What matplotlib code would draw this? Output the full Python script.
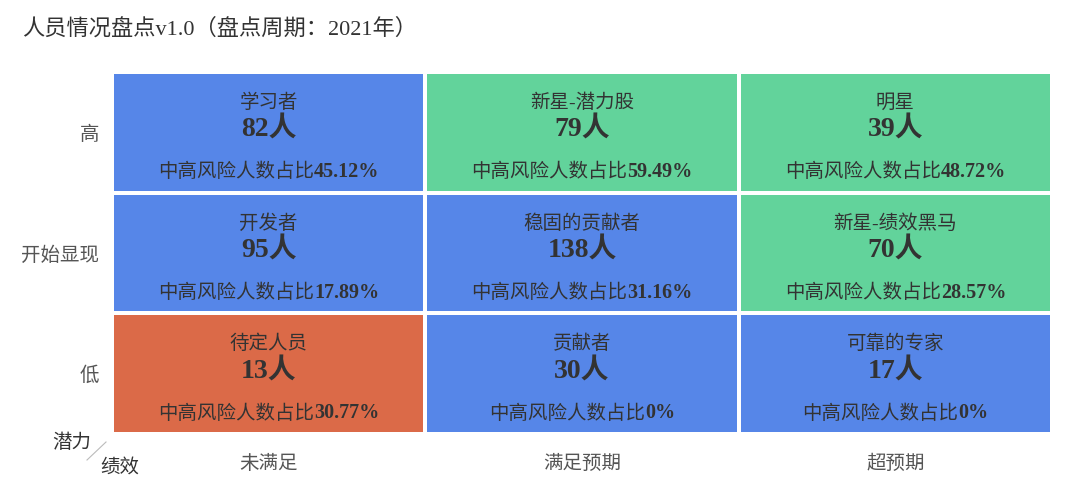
import matplotlib
matplotlib.use("Agg")
import matplotlib.pyplot as plt

plt.rcParams['font.family'] = ['Liberation Serif', 'Noto Sans CJK SC', 'DejaVu Sans']

title = "人员情况盘点v1.0（盘点周期：2021年）"
row_labels = ['低', '开始显现', '高']          # bottom -> top
col_labels = ['未满足', '满足预期', '超预期']
# grids listed bottom row first
names = [['待定人员', '贡献者', '可靠的专家'],
         ['开发者', '稳固的贡献者', '新星-绩效黑马'],
         ['学习者', '新星-潜力股', '明星']]
counts = [[13, 30, 17],
          [95, 138, 70],
          [82, 79, 39]]
risk = [['30.77%', '0%', '0%'],
        ['17.89%', '31.16%', '28.57%'],
        ['45.12%', '59.49%', '48.72%']]
kinds = [['o', 'b', 'b'],
         ['b', 'b', 'g'],
         ['b', 'g', 'g']]
palette = {'b': '#5686E8', 'g': '#62D39B', 'o': '#DB6A48'}

W, H = 1068, 500
fig = plt.figure(figsize=(W / 100, H / 100), dpi=100)
ax = fig.add_axes([114 / W, (H - 432) / H, 936 / W, 358 / H])

w = 928 / 940
h = 350 / 362
for r in range(3):
    for c in range(3):
        ax.bar(c, h, width=w, bottom=r - h / 2, color=palette[kinds[r][c]],
               edgecolor='none')
ax.set_xlim(-w / 2, 2 + w / 2)
ax.set_ylim(-h / 2, 2 + h / 2)
ax.axis('off')

txt = '#333333'
lab = '#555555'
fig.canvas.draw()
renderer = fig.canvas.get_renderer()
inv = ax.transData.inverted()

for r in range(3):
    for c in range(3):
        ax.text(c, r + 0.245, names[r][c], ha='center', va='center',
                fontsize=14, color=txt)
        ax.text(c, r + 0.02, f"{counts[r][c]}人", ha='center', va='center',
                fontsize=20, fontweight='bold', color=txt)
        t1 = ax.text(c, r - 0.33, '中高风险人数占比', ha='left', va='center',
                     fontsize=14, color=txt)
        t2 = ax.text(c, r - 0.33, risk[r][c], ha='left', va='center',
                     fontsize=14.5, fontweight='bold', color=txt)
        w1 = t1.get_window_extent(renderer).width
        w2 = t2.get_window_extent(renderer).width
        px_c = ax.transData.transform((c, r))[0]
        x1 = inv.transform((px_c - (w1 + w2) / 2, 0))[0]
        x2 = inv.transform((px_c - (w1 + w2) / 2 + w1, 0))[0]
        t1.set_x(x1)
        t2.set_x(x2)

for r, s in enumerate(row_labels):
    ax.text(-w / 2 - 15 / 312, r - 0.02, s, ha='right', va='center',
            fontsize=14, color=lab)
for c, s in enumerate(col_labels):
    ax.text(c, -h / 2 - 32 / 121, s, ha='center', va='center', fontsize=14,
            color=lab)

fig.text(22 / W, 1 - 29 / H, title, ha='left', va='center', fontsize=16,
         color=txt)
fig.text(72 / W, 1 - 443 / H, '潜力', ha='center', va='center', fontsize=14,
         color=txt)
fig.text(120 / W, 1 - 468 / H, '绩效', ha='center', va='center', fontsize=14,
         color=txt)
fig.add_artist(plt.Line2D([87 / W, 106 / W], [1 - 460 / H, 1 - 442 / H],
                          color='#bbbbbb', linewidth=0.8))

fig.savefig('out.png', dpi=100)
